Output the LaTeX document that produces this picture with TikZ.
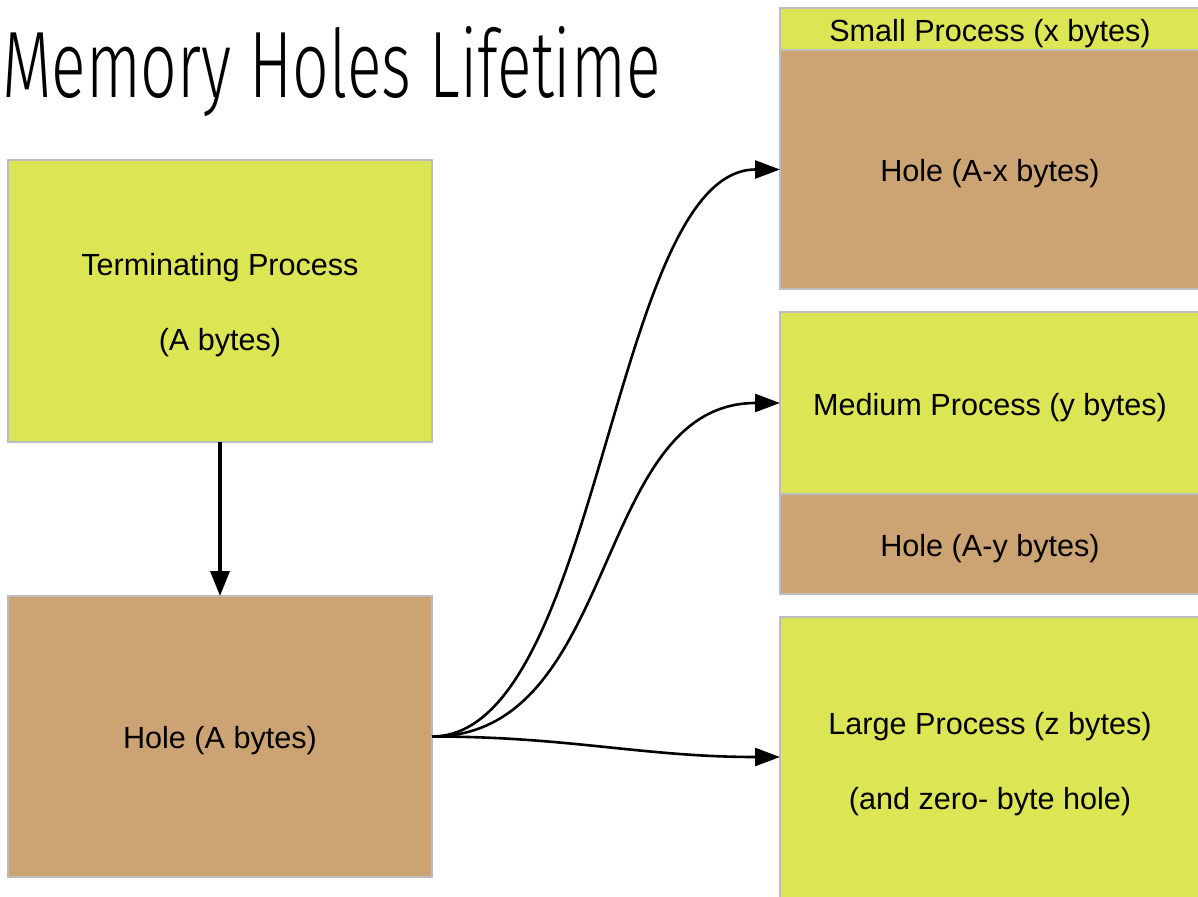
\documentclass[tikz,border=0pt]{standalone}
\usepackage{fontspec}
\setmainfont{Liberation Sans}
\newfontfamily\titlefont{Fira Sans Light}
\usepackage{graphicx}
\usetikzlibrary{positioning, arrows.meta}
\definecolor{procgreen}{HTML}{DCE655}
\definecolor{holetan}{HTML}{CCA474}
\definecolor{edgegray}{HTML}{BDBDBD}
\tikzset{blockbase/.style={rectangle, draw=edgegray, line width=1.5pt, inner sep=0pt, outer sep=0pt, align=center, text height=30.5pt, font=\fontsize{30.6}{75}\selectfont}}
\tikzset{twoline/.style={text height=105.5pt}}
\tikzset{procbox/.style={blockbase, fill=procgreen}}
\tikzset{holebox/.style={blockbase, fill=holetan}}
\tikzset{arr/.style={draw, line width=2.6pt, -{Triangle[length=25pt, width=18pt]}}}
\tikzset{arr0/.style={draw, line width=3.4pt, -{Triangle[length=25pt, width=19pt]}}}

\begin{document}
\begin{tikzpicture}[x=1pt, y=-1pt]
	\useasboundingbox (0,0) rectangle (1198,896);
	\node[anchor=base west, inner sep=0pt] (title) at (2,98)
		{\resizebox{658pt}{71pt}{\titlefont Memory Holes Lifetime}};
	% left column
	\node[procbox, twoline, minimum width=424pt, minimum height=282pt] (term) at (220,301)
		{Terminating Process\\(A bytes)};
	\node[holebox, minimum width=424pt, minimum height=281pt] (hole) at (220,736.5)
		{Hole (A bytes)};
	% right column
	\node[procbox, minimum width=420pt, minimum height=42pt] (small) at (990,29)
		{Small Process (x bytes)};
	\node[holebox, minimum width=420pt, minimum height=239pt] (smallhole) at (990,169.5)
		{Hole (A-x bytes)};
	\node[procbox, minimum width=420pt, minimum height=182pt] (medium) at (990,403)
		{Medium Process (y bytes)};
	\node[holebox, minimum width=420pt, minimum height=100pt] (mediumhole) at (990,544)
		{Hole (A-y bytes)};
	\node[procbox, twoline, minimum width=420pt, minimum height=286pt] (large) at (990,760)
		{Large Process (z bytes)\\(and zero- byte hole)};
	\draw[arr0] (term.south) -- (hole.north);
	\draw[arr] (hole.east) to[out=0, in=180, looseness=0.65] (smallhole.west);
	\draw[arr] (hole.east) to[out=0, in=180] (medium.west);
	\draw[arr] (hole.east) to[out=0, in=180] ([yshift=3pt]large.west);
\end{tikzpicture}
\end{document}
